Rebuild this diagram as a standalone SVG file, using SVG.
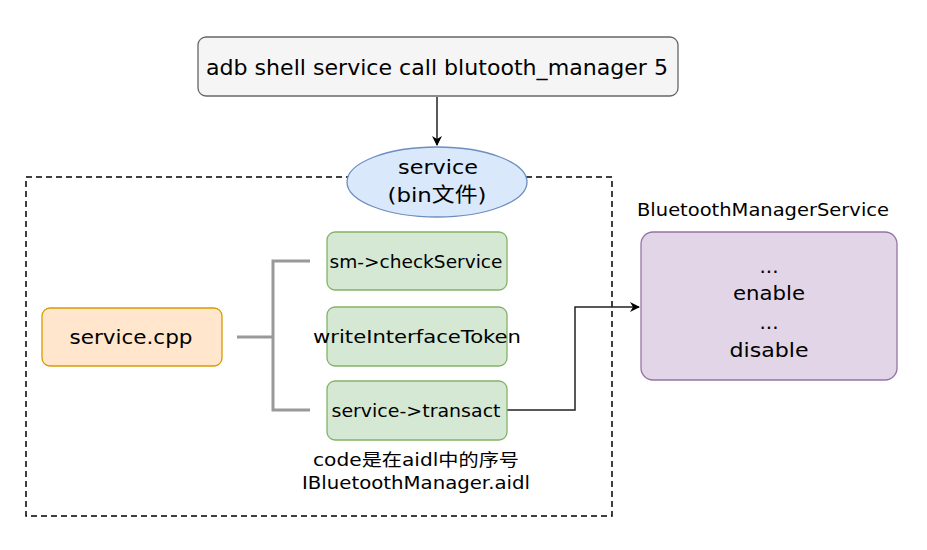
<svg xmlns="http://www.w3.org/2000/svg" width="927" height="550" viewBox="0 0 927 550">
<defs>
<style>
text{font-family:"DejaVu Sans","Noto Sans CJK SC",sans-serif;fill:#000;text-anchor:middle;dominant-baseline:central}
.green{fill:#d5e8d4;stroke:#82b366;stroke-width:1.3}
.bracket{fill:none;stroke:#999;stroke-width:3}
.conn{fill:none;stroke:#222;stroke-width:1.5}
</style>
<marker id="arr" markerWidth="10" markerHeight="10" refX="9" refY="5" orient="auto" markerUnits="userSpaceOnUse">
<path d="M0,0 L10,5 L0,10 L3,5 Z" fill="#000"/>
</marker>
</defs>
<rect width="927" height="550" fill="#fff"/>
<g id="container">
<rect x="26" y="177" width="586" height="339" fill="none" stroke="#000" stroke-width="1.5" stroke-dasharray="6 4"/>
</g>
<g id="connectors">
<path class="conn" d="M437,97 L437,145" marker-end="url(#arr)"/>
<path class="bracket" d="M237,337 L273,337 M310,261 L273,261 L273,410 L310,410"/>
<path class="conn" d="M507,410 L575,410 L575,307 L639,307" marker-end="url(#arr)"/>
</g>
<g id="adb">
<rect x="198" y="37" width="480" height="59" rx="8" fill="#f5f5f5" stroke="#666" stroke-width="1.3"/>
<text x="437" y="67" font-size="22" textLength="462" lengthAdjust="spacingAndGlyphs">adb shell service call blutooth_manager 5</text>
</g>
<g id="service-bin">
<ellipse cx="437" cy="182" rx="90" ry="35" fill="#dae8fc" stroke="#6c8ebf" stroke-width="1.3"/>
<text x="438" y="167" font-size="20" textLength="80" lengthAdjust="spacingAndGlyphs">service</text>
<text x="437" y="195" font-size="20" textLength="99" lengthAdjust="spacingAndGlyphs">(bin文件)</text>
</g>
<g id="service-cpp">
<rect x="42" y="308" width="180" height="58" rx="8" fill="#ffe6cc" stroke="#d79b00" stroke-width="1.3"/>
<text x="131" y="337" font-size="20" textLength="123" lengthAdjust="spacingAndGlyphs">service.cpp</text>
</g>
<g id="checkService">
<rect class="green" x="327" y="232" width="180" height="58" rx="8"/>
<text x="416" y="261" font-size="18" textLength="173" lengthAdjust="spacingAndGlyphs">sm-&gt;checkService</text>
</g>
<g id="writeInterfaceToken">
<rect class="green" x="327" y="307" width="180" height="59" rx="8"/>
<text x="417" y="336" font-size="18" textLength="208" lengthAdjust="spacingAndGlyphs">writeInterfaceToken</text>
</g>
<g id="transact">
<rect class="green" x="327" y="381" width="180" height="59" rx="8"/>
<text x="416" y="410" font-size="18" textLength="169" lengthAdjust="spacingAndGlyphs">service-&gt;transact</text>
</g>
<g id="note">
<text x="416" y="460" font-size="17" textLength="206" lengthAdjust="spacingAndGlyphs">code是在aidl中的序号</text>
<text x="416" y="483" font-size="17" textLength="228" lengthAdjust="spacingAndGlyphs">IBluetoothManager.aidl</text>
</g>
<g id="bms">
<text x="763" y="210" font-size="17" textLength="252" lengthAdjust="spacingAndGlyphs">BluetoothManagerService</text>
<rect x="641" y="232" width="256" height="148" rx="12" fill="#e1d5e7" stroke="#9673a6" stroke-width="1.3"/>
<text x="769" y="266" font-size="20">...</text>
<text x="769" y="293" font-size="20" textLength="72" lengthAdjust="spacingAndGlyphs">enable</text>
<text x="769" y="322" font-size="20">...</text>
<text x="769" y="350" font-size="20" textLength="79" lengthAdjust="spacingAndGlyphs">disable</text>
</g>
</svg>
